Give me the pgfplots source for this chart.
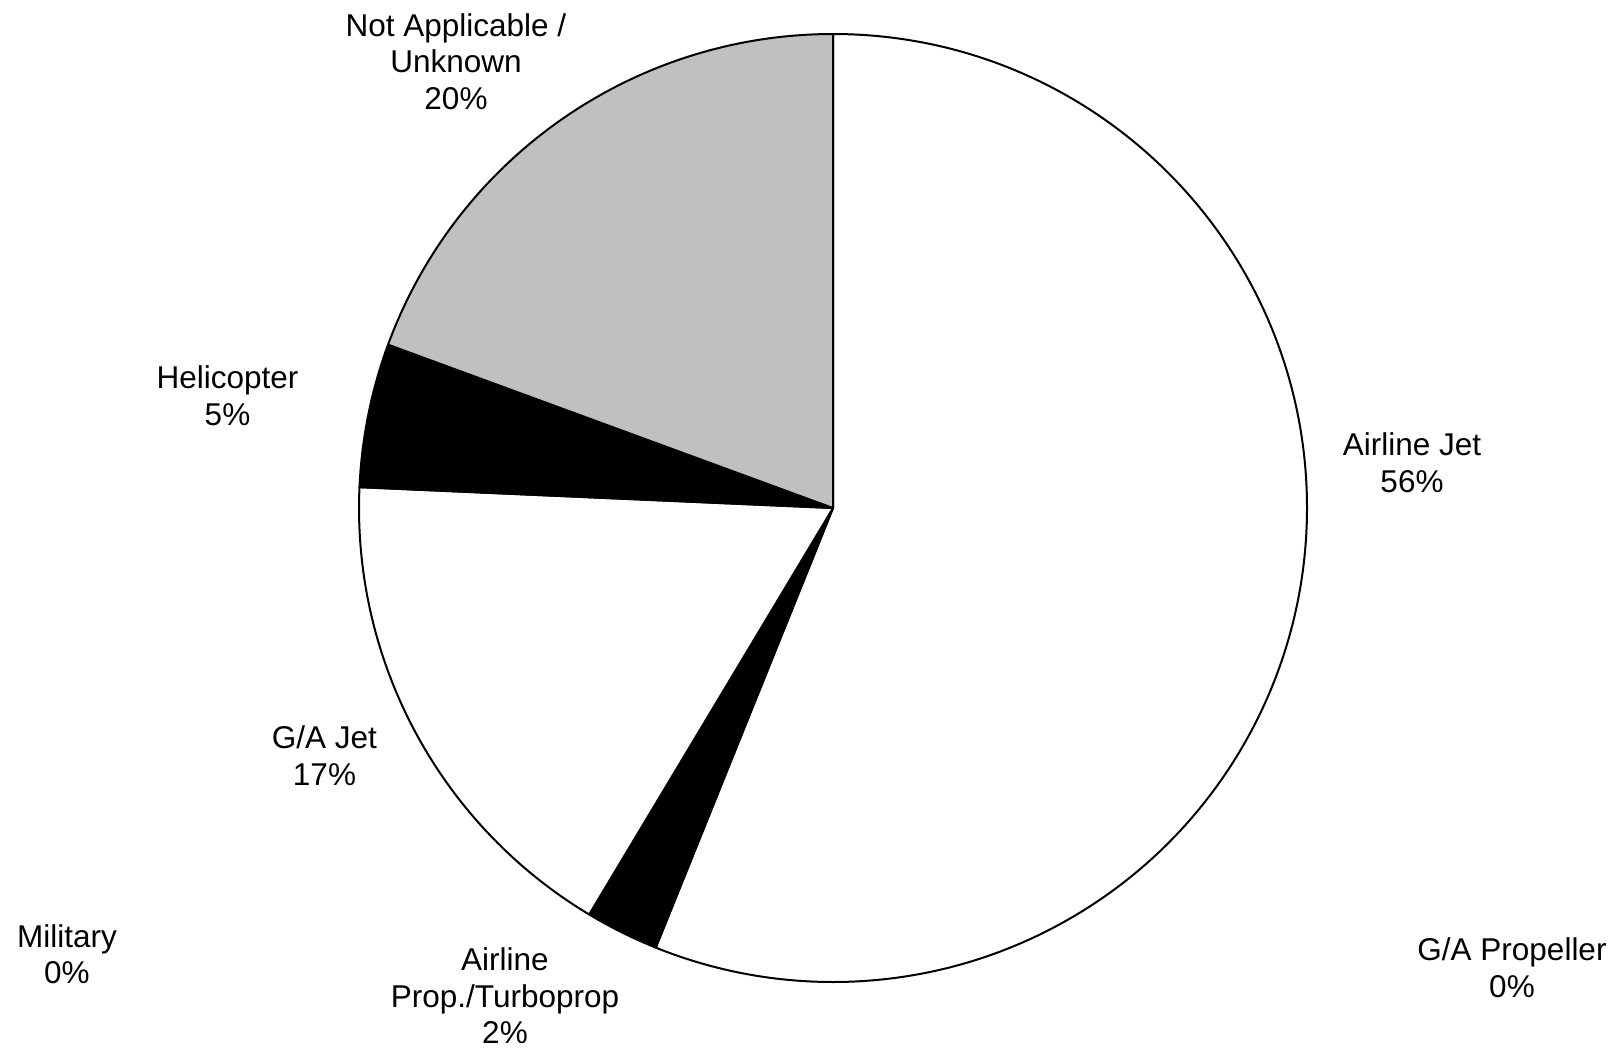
\documentclass[border=0pt]{standalone}
\usepackage{fontspec}
\setmainfont{Liberation Sans}
\usepackage{pgfplots}
\pgfplotsset{compat=1.18}
\definecolor{naGray}{RGB}{192,192,192}
\begin{document}
\begin{tikzpicture}
\def\R{142.2pt}
\begin{axis}[x=0.3pt,y=0.3pt,xmin=0,xmax=1617,ymin=0,ymax=1047,
  y dir=reverse,hide axis,clip=false,scale only axis]
\path (axis cs:0,0) rectangle (axis cs:1617,1047);
% slice shares (percent), clockwise from 12 o'clock:
% Airline Jet 56.1, Airline Prop./Turboprop 2.5, G/A Jet 17.1, Helicopter 4.9, Not Applicable/Unknown 19.4
\filldraw[fill=white,draw=black,line width=0.6pt,line join=round]
  (axis cs:833,508) -- ++(90:\R) arc[start angle=90, delta angle=-56.1*3.6, radius=\R] -- cycle;
\filldraw[fill=black,draw=black,line width=0.6pt,line join=round]
  (axis cs:833,508) -- ++({90-56.1*3.6}:\R) arc[start angle={90-56.1*3.6}, delta angle=-2.5*3.6, radius=\R] -- cycle;
\filldraw[fill=white,draw=black,line width=0.6pt,line join=round]
  (axis cs:833,508) -- ++({90-58.6*3.6}:\R) arc[start angle={90-58.6*3.6}, delta angle=-17.1*3.6, radius=\R] -- cycle;
\filldraw[fill=black,draw=black,line width=0.6pt,line join=round]
  (axis cs:833,508) -- ++({90-75.7*3.6}:\R) arc[start angle={90-75.7*3.6}, delta angle=-4.9*3.6, radius=\R] -- cycle;
\filldraw[fill=naGray,draw=black,line width=0.6pt,line join=round]
  (axis cs:833,508) -- ++({90-80.6*3.6}:\R) arc[start angle={90-80.6*3.6}, delta angle=-19.4*3.6, radius=\R] -- cycle;
\tikzset{lbl/.style={align=center,inner sep=0pt,font=\fontsize{9.45}{10.95}\selectfont}}
\node[lbl] at (axis cs:456,61.5) {Not Applicable /\\Unknown\\20\%};
\node[lbl] at (axis cs:227.5,395.5) {Helicopter\\5\%};
\node[lbl] at (axis cs:1412,462.5) {Airline Jet\\56\%};
\node[lbl] at (axis cs:324.5,755.5) {G/A Jet\\17\%};
\node[lbl] at (axis cs:67,954) {Military\\0\%};
\node[lbl] at (axis cs:1512,967.5) {G/A Propeller\\0\%};
\node[lbl] at (axis cs:505,996) {Airline\\Prop./Turboprop\\2\%};
\end{axis}
\end{tikzpicture}
\end{document}
